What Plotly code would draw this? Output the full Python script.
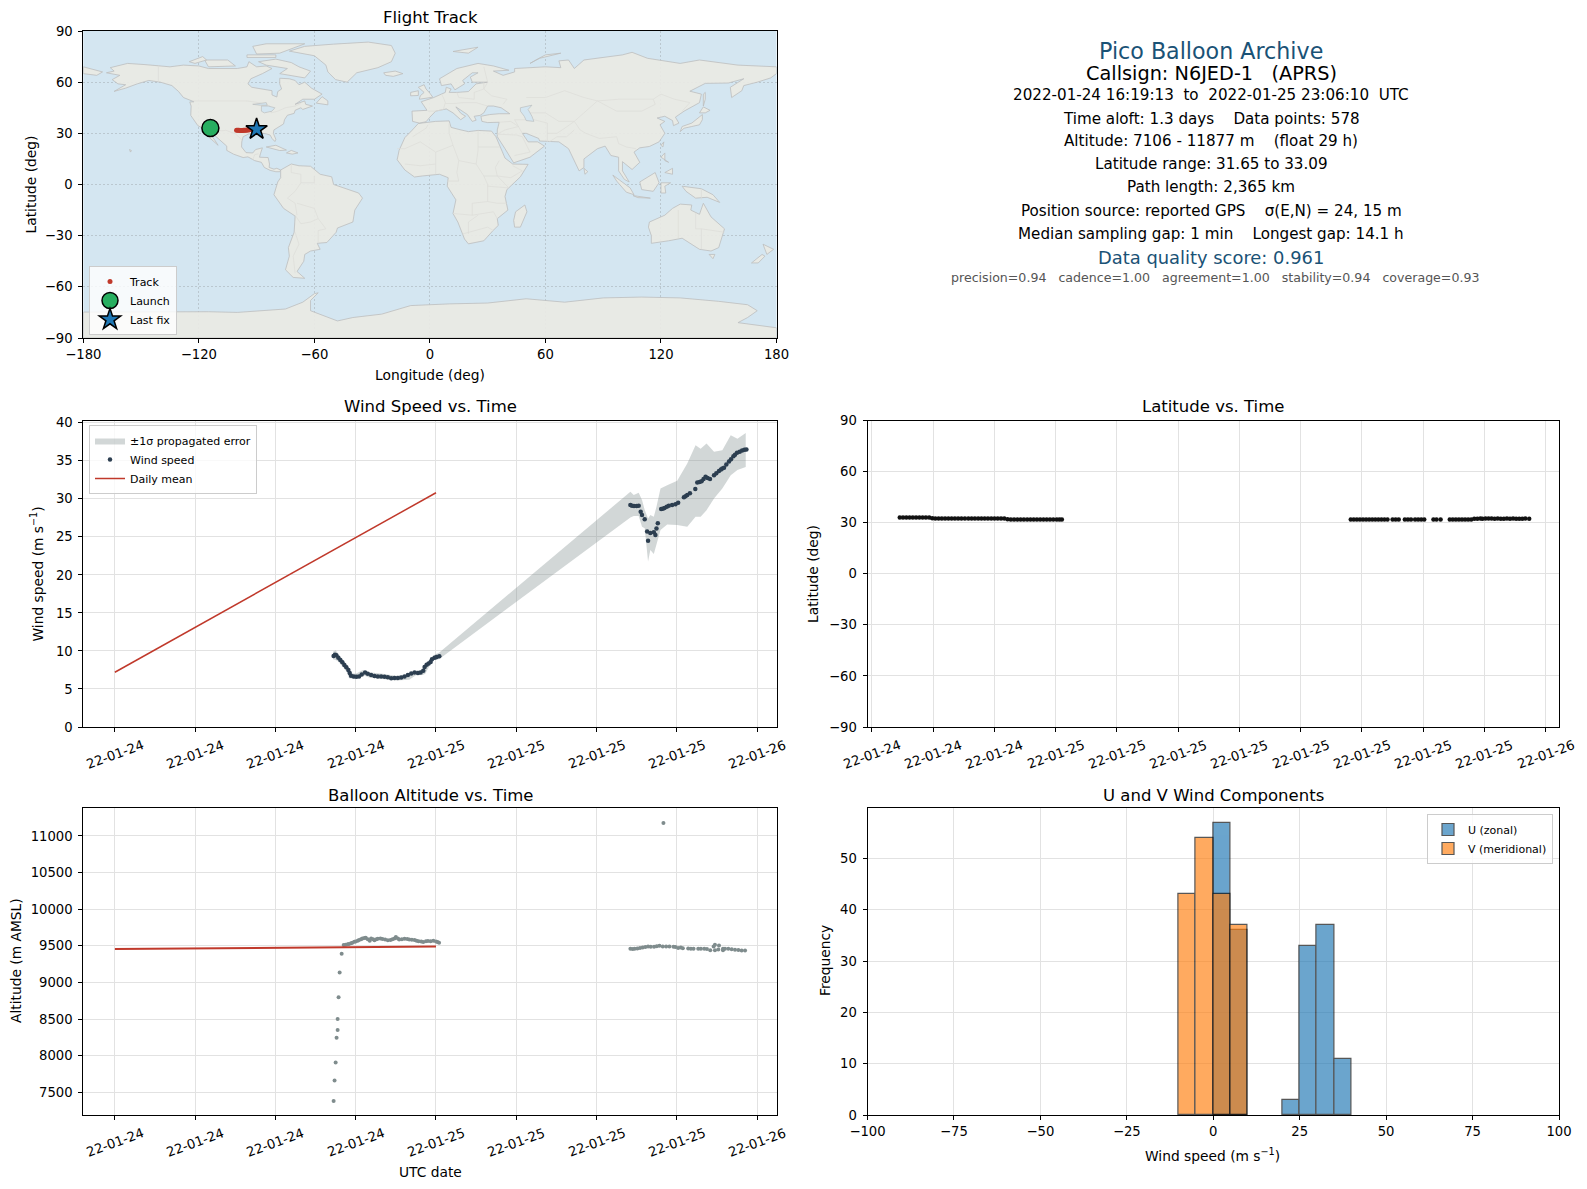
import pandas as pd
import plotly.graph_objects as go

WIDTH = 1587
HEIGHT = 1189
BASE_TIME = pd.Timestamp("2022-01-25 00:00:00")

# hours are relative to 2022-01-25 00:00 UTC
wind_hours = [-7.65, -7.55, -7.45, -7.3, -7.15, -7.0, -6.85, -6.7, -6.55, -6.45, -6.35, -6.15, -5.95, -5.75,
              -5.55, -5.3, -5.1, -4.85, -4.6, -4.35, -4.1, -3.85, -3.6, -3.35, -3.1, -2.85, -2.6, -2.35, -2.1,
              -1.85, -1.6, -1.35, -1.15, -0.95, -0.85, -0.7, -0.55, -0.4, -0.3, -0.1, 0.05, 0.25,
              14.53, 14.65, 14.8, 15.0, 15.15, 15.3, 15.4, 15.6, 15.78, 15.85, 16.02, 16.28, 16.4, 16.48, 16.58,
              16.83, 16.95, 17.08, 17.25, 17.4, 17.65, 17.9, 18.1, 18.53, 18.65, 18.78, 18.98, 19.38, 19.53,
              19.7, 19.85, 20.0, 20.15, 20.3, 20.48, 20.78, 20.95, 21.15, 21.3, 21.4, 21.53, 21.7, 21.9, 22.05,
              22.23, 22.35, 22.5, 22.7, 22.88, 23.05, 23.2]
wind_speed = [9.35, 9.5, 9.45, 9.1, 8.8, 8.5, 8.15, 7.85, 7.5, 7.1, 6.75, 6.65, 6.6, 6.65,
              6.9, 7.15, 7.0, 6.85, 6.7, 6.65, 6.65, 6.6, 6.55, 6.4, 6.45, 6.45, 6.5, 6.65, 6.85,
              7.05, 7.15, 7.1, 7.15, 7.4, 7.9, 8.2, 8.35, 8.55, 8.9, 9.1, 9.2, 9.3,
              29.2, 29.1, 29.05, 29.05, 29.1, 28.3, 27.87, 27.3, 25.7, 24.5, 25.5, 25.6, 25.25, 26.1, 26.8,
              28.65, 28.7, 28.8, 28.95, 29.1, 29.2, 29.3, 29.5, 30.2, 30.35, 30.5, 30.75, 31.3, 32.15,
              32.2, 32.3, 32.6, 32.9, 32.75, 32.6, 33.1, 33.35, 33.65, 33.85, 34.0, 34.1, 34.5, 34.9, 35.2,
              35.6, 35.8, 36.05, 36.2, 36.35, 36.45, 36.5]
band_hours = [-7.7, -7.5, -7.3, -7.0, -6.6, -6.5, -6.0, -5.5, -5.0, -4.0, -3.0, -2.0, -1.5, -1.0, -0.8, -0.5,
              -0.2, 0.0, 0.25, 14.53, 14.78, 15.15, 15.4, 15.6, 15.85, 16.02, 16.28, 16.48, 16.78, 17.28, 18.03,
              18.78, 19.4, 19.78, 20.22, 20.78, 21.4, 22.03, 22.53, 23.15]
band_upper = [9.9, 10.1, 9.6, 8.9, 8.1, 7.1, 7.0, 7.45, 7.2, 7.0, 6.75, 6.9, 7.4, 7.5, 7.7, 8.8,
              9.4, 9.6, 9.8, 30.93, 30.5, 30.8, 29.84, 28.52, 27.43, 27.87, 27.65, 28.96, 31.37, 31.8, 32.37,
              34.65, 37.05, 36.6, 37.27, 36.2, 36.4, 38.36, 37.9, 38.67]
band_lower = [8.9, 8.8, 8.6, 8.0, 7.1, 6.4, 6.3, 6.85, 6.5, 6.3, 6.1, 6.2, 6.8, 6.85, 7.0, 8.0,
              8.8, 8.8, 8.95, 27.56, 27.74, 27.74, 26.34, 26.12, 21.75, 23.28, 22.75, 24.15, 25.9, 26.64, 26.56,
              26.34, 27.65, 27.65, 28.5, 30.05, 31.37, 33.1, 33.8, 34.2]
daily_hours = [-24, 0]
daily_wind = [7.2, 30.8]
daily_altitude = [9455, 9490]

altitude_hours = [-7.65, -7.58, -7.5, -7.43, -7.35, -7.35, -7.28, -7.2, -7.05,
                  -6.9, -6.75, -6.6, -6.5, -6.35, -6.25, -6.1, -6.0, -5.85, -5.75, -5.6, -5.5, -5.35, -5.25, -5.1,
                  -4.95, -4.85, -4.7, -4.6, -4.45, -4.35, -4.15, -4.0, -3.8, -3.6, -3.4, -3.25, -3.1, -3.0, -2.85,
                  -2.75, -2.55, -2.35, -2.15, -2.0, -1.8, -1.6, -1.45, -1.3, -1.1, -0.95, -0.75, -0.6, -0.4, -0.2,
                  0.0, 0.12, 0.23,
                  14.53, 14.7, 14.85, 15.05, 15.25, 15.45, 15.65, 15.85, 16.05, 16.3, 16.5, 16.7, 16.95, 17.0, 17.2,
                  17.45, 17.75, 17.9, 18.1, 18.3, 18.45, 18.85, 19.05, 19.25, 19.6, 19.8, 20.05, 20.25, 20.5, 20.75,
                  20.85, 20.85, 21.1, 21.15, 21.45, 21.45, 21.6, 21.85, 22.1, 22.35, 22.6, 22.85, 23.1]
altitude = [7380, 7662, 7905, 8243, 8351, 8500, 8797, 9135, 9392,
            9511, 9515, 9520, 9525, 9535, 9543, 9555, 9560, 9570, 9578, 9590, 9600, 9605, 9610, 9590,
            9570, 9600, 9590, 9575, 9590, 9597, 9598, 9593, 9585, 9575, 9580, 9588, 9600, 9620, 9600,
            9585, 9590, 9597, 9592, 9585, 9583, 9580, 9570, 9562, 9560, 9550, 9562, 9565, 9563, 9568,
            9560, 9550, 9542,
            9459, 9455, 9461, 9464, 9470, 9477, 9482, 9491, 9486, 9488, 9495, 9500, 9491, 11176, 9491,
            9489, 9486, 9485, 9470, 9478, 9465, 9462, 9459, 9461, 9461, 9461, 9459, 9455, 9440, 9490,
            9440, 9515, 9450, 9505, 9461, 9440, 9459, 9459, 9453, 9446, 9441, 9437, 9437]

lat_hours = [-7.64, -7.48, -7.32, -7.16, -7.0, -6.84, -6.68, -6.52, -6.36, -6.2, -6.05, -5.9, -5.74, -5.58, -5.42,
             -5.26, -5.1, -4.94, -4.78, -4.62, -4.45, -4.28, -4.12, -3.96, -3.8, -3.64, -3.48, -3.32, -3.16, -3.0,
             -2.84, -2.68, -2.52, -2.36, -2.2, -2.04, -1.88, -1.72, -1.56, -1.4, -1.24, -1.08, -0.92, -0.76, -0.6,
             -0.44, -0.28, -0.12, 0.05, 0.18, 0.3,
             14.45, 14.6, 14.75, 14.9, 15.05, 15.2, 15.35, 15.5, 15.65, 15.8, 15.95, 16.1, 16.25, 16.5, 16.65, 16.8,
             17.1, 17.25, 17.4, 17.6, 17.75, 17.9, 18.05, 18.5, 18.65, 18.85, 19.3, 19.45, 19.6, 19.75, 19.9, 20.05,
             20.2, 20.35, 20.5, 20.65, 20.8, 20.9, 21.05, 21.2, 21.35, 21.5, 21.65, 21.8, 21.95, 22.1, 22.25, 22.4,
             22.55, 22.7, 22.85, 23.0, 23.19]
latitude = [33.05, 33.08, 33.09, 33.07, 33.06, 33.05, 33.06, 33.04, 33.03, 33.0, 32.55, 32.5, 32.48, 32.46, 32.47,
            32.45, 32.46, 32.44, 32.45, 32.46, 32.45, 32.5, 32.52, 32.5, 32.49, 32.48, 32.5, 32.46, 32.47, 32.46,
            32.44, 32.42, 32.4, 31.95, 31.92, 31.9, 31.88, 31.85, 31.87, 31.86, 31.84, 31.85, 31.82, 31.85, 31.87,
            31.86, 31.84, 31.88, 31.85, 31.87, 31.86,
            31.85, 31.84, 31.85, 31.83, 31.82, 31.83, 31.84, 31.82, 31.8, 31.82, 31.84, 31.82, 31.85, 31.83, 31.86,
            31.84, 31.85, 31.86, 31.84, 31.87, 31.85, 31.84, 31.86, 31.85, 31.87, 31.85, 31.86, 31.84, 31.87, 31.85,
            31.86, 31.88, 31.86, 31.9, 32.25, 32.3, 32.4, 32.35, 32.42, 32.38, 32.4, 32.36, 32.38, 32.35, 32.36,
            32.38, 32.36, 32.38, 32.35, 32.37, 32.36, 32.38, 32.36]

u_centers = [2.5, 7.5, 22.5, 27.5, 32.5, 37.5]
u_counts = [57, 36, 3, 33, 37, 11]
v_centers = [-7.5, -2.5, 2.5, 7.5]
v_counts = [43, 54, 43, 37]

track_lon = [-100.4, -99.8, -99.2, -98.6, -98.0, -97.4, -96.8, -96.2, -95.6, -95.0, -94.4, -93.8, -93.2, -92.6,
             -92.0, -91.4, -90.8, -90.2]
track_lat = [31.8, 31.8, 31.75, 31.7, 31.7, 31.7, 31.75, 31.8, 31.85, 31.9, 32.0, 32.1, 32.2, 32.25, 32.3, 32.3,
             32.35, 32.4]
launch_lon = [-114.0]
launch_lat = [33.09]
last_lon = [-90.0]
last_lat = [32.4]

wind_tick_hours = [-24, -18, -12, -6, 0, 6, 12, 18, 24]
wind_tick_labels = ["22-01-24", "22-01-24", "22-01-24", "22-01-24", "22-01-25", "22-01-25", "22-01-25", "22-01-25",
                    "22-01-26"]
lat_tick_hours = [-9, -6, -3, 0, 3, 6, 9, 12, 15, 18, 21, 24]
lat_tick_labels = ["22-01-24", "22-01-24", "22-01-24", "22-01-25", "22-01-25", "22-01-25", "22-01-25", "22-01-25",
                   "22-01-25", "22-01-25", "22-01-25", "22-01-26"]

info_lines = [
    "Pico Balloon Archive",
    "Callsign: N6JED-1\u00a0\u00a0\u00a0(APRS)",
    "2022-01-24 16:19:13\u00a0\u00a0to\u00a0\u00a02022-01-25 23:06:10\u00a0\u00a0UTC",
    "Time aloft: 1.3 days\u00a0\u00a0\u00a0\u00a0Data points: 578",
    "Altitude: 7106 - 11877 m\u00a0\u00a0\u00a0\u00a0(float 29 h)",
    "Latitude range: 31.65 to 33.09",
    "Path length: 2,365 km",
    "Position source: reported GPS\u00a0\u00a0\u00a0\u00a0σ(E,N) = 24, 15 m",
    "Median sampling gap: 1 min\u00a0\u00a0\u00a0\u00a0Longest gap: 14.1 h",
    "Data quality score: 0.961",
    "precision=0.94\u00a0\u00a0\u00a0cadence=1.00\u00a0\u00a0\u00a0agreement=1.00\u00a0\u00a0\u00a0stability=0.94\u00a0\u00a0\u00a0coverage=0.93",
]

# rough coastlines, (lon, lat)
land_polygons = [
    [(-168, 65.5), (-164, 66.5), (-166, 68.5), (-157, 71), (-148, 70.3), (-141, 69.6), (-135, 69), (-128, 70),
     (-120, 69.5), (-115, 68), (-108, 68), (-100, 68), (-95, 69), (-94, 72), (-90, 69), (-85, 69.5), (-82, 68),
     (-87, 65), (-93, 62), (-94.5, 59), (-92.5, 57), (-85, 55.3), (-82, 55), (-82, 52.5), (-79.5, 51.3), (-79, 54.5),
     (-77, 56), (-78, 59), (-78, 62.3), (-73, 62), (-70, 61), (-68, 58.5), (-65, 60), (-61.5, 56.5), (-56, 53),
     (-60, 50), (-66, 50), (-70, 47), (-65, 49), (-64.5, 47), (-61, 46), (-66, 44), (-67, 45), (-70, 43.5),
     (-70.5, 41.7), (-74, 40.6), (-75.5, 38), (-76, 35.5), (-78, 34), (-81, 32), (-81.3, 30), (-80, 26.5),
     (-80.5, 25.2), (-82, 27), (-83, 29), (-85, 29.7), (-89, 30.3), (-90, 29.2), (-94, 29.7), (-97, 28), (-97.7, 25),
     (-97.8, 22), (-95.5, 18.7), (-92, 18.5), (-90.5, 20.5), (-87, 21.5), (-88, 18), (-88.5, 16), (-84, 15.8),
     (-83.3, 12), (-83.5, 10), (-81, 9), (-79.5, 9.5), (-77.5, 8.5), (-78, 7.5), (-80, 7.5), (-83, 8.3), (-86, 10),
     (-87.5, 13), (-91, 14), (-94.5, 16.2), (-97, 15.8), (-102, 17.8), (-105.5, 20), (-105.5, 22.5), (-109, 26),
     (-112, 29), (-113, 31.2), (-114.7, 31.7), (-114.5, 30), (-112, 26.5), (-110, 23), (-112, 25), (-115, 28),
     (-116, 31), (-117.2, 32.6), (-120.5, 34.5), (-122.5, 37.5), (-124.2, 40.5), (-124, 46), (-124.7, 48.4),
     (-122.5, 48.5), (-128, 51), (-130.5, 54.5), (-134, 58), (-140, 60), (-146, 61), (-152, 59), (-158, 56.5),
     (-164, 54.6), (-158, 58.5), (-162, 59), (-165, 61.5), (-161, 64), (-168, 65.5)],
    [(-73, 78.2), (-65, 81), (-50, 82.3), (-32, 83.5), (-20, 81.5), (-18, 77), (-20, 72), (-27, 68.5), (-38, 65.5),
     (-43, 60), (-49, 61.5), (-53, 66), (-54, 70), (-60, 75.5), (-73, 78.2)],
    [(-80, 73.5), (-72, 71.5), (-68, 69), (-62, 66.5), (-65, 62.5), (-72, 64), (-78, 65), (-74, 68), (-85, 70),
     (-89, 72), (-80, 73.5)],
    [(-117, 73), (-105, 73), (-101, 69.5), (-115, 69), (-117, 73)],
    [(-90, 76.5), (-78, 77), (-65, 82.5), (-85, 82.5), (-92, 81), (-90, 76.5)],
    [(-125, 72), (-118, 75), (-116, 73), (-122, 71), (-125, 72)],
    [(-95, 76), (-80, 76), (-80, 74.5), (-95, 74.5), (-95, 76)],
    [(-59, 47.7), (-53, 46.7), (-53, 49), (-56, 51.5), (-59, 47.7)],
    [(-85, 22), (-80, 23), (-74.5, 20.2), (-78, 19.9), (-85, 22)],
    [(-74.5, 18.5), (-72, 20), (-68.5, 18.5), (-71.5, 17.8), (-74.5, 18.5)],
    [(-156, 20.5), (-155, 19.9), (-155.5, 19), (-156, 20.5)],
    [(-77.5, 8.5), (-72, 12), (-68, 11), (-62, 10.7), (-57, 6), (-51, 4.5), (-50, 0), (-44, -2.5), (-37, -5), (-35, -8),
     (-39, -15), (-40, -22), (-48, -25.5), (-48.7, -28), (-53.5, -34), (-58.5, -34.5), (-57, -38), (-62, -39),
     (-65, -41), (-65.5, -45), (-69, -51), (-65, -55), (-71, -54.5), (-75, -50), (-73, -42), (-73.5, -37),
     (-70.5, -28), (-70, -18.5), (-76, -14), (-81, -6), (-80, -2), (-79, 1.5), (-77.5, 4), (-77.5, 8.5)],
    [(-6, 35.8), (3, 37), (10, 37.3), (11, 33.5), (15, 32.3), (20, 31), (25, 31.7), (32, 31.3), (34.3, 28), (37, 21),
     (39, 15.5), (43, 12), (51, 11.8), (47, 4.5), (40, -3), (39, -7), (40.5, -15), (35, -20), (35.5, -24), (32.8, -27),
     (28, -33), (20, -34.8), (18, -32), (14.5, -22), (12, -17), (13.5, -9), (9, -1), (9.5, 4), (5, 6), (-4, 5),
     (-8, 4.4), (-13, 8.5), (-17, 14.5), (-16, 20), (-13, 27.5), (-9.5, 31.5), (-6, 35.8)],
    [(49.3, -12), (50.4, -16), (47, -25), (44, -25), (43.5, -21), (44.5, -16), (49.3, -12)],
    [(-9, 37), (-9.3, 43), (-1.5, 43.5), (-4.5, 48.5), (2, 51), (8, 54), (8.5, 57), (11, 56), (10, 54), (14, 54),
     (20, 54.5), (24, 59), (30, 60), (22, 60), (21, 63), (25, 65.5), (22, 65.5), (17, 61), (18, 59), (13, 55.5),
     (11, 59), (6, 58), (5, 62), (14, 68), (25, 71), (33, 69.5), (41, 67), (33, 66.5), (38, 64), (44, 66), (44, 68),
     (60, 69), (68, 68.5), (67, 72.5), (72, 73), (75, 68), (80, 73), (100, 76), (105, 77.5), (113, 74), (130, 71),
     (140, 73), (160, 70), (180, 69), (180, 65), (177, 62.5), (170, 60), (163, 58), (162, 55), (156.7, 51), (156, 57),
     (163, 62), (155, 59.5), (143, 59.3), (135, 54.7), (141, 53), (140, 48), (132, 43), (127.5, 39.5), (129.3, 36),
     (126.5, 34.5), (126, 37.5), (122, 40), (118, 39), (122, 37), (119.5, 35), (122, 30), (119, 25), (114, 22.3),
     (109, 21.5), (106, 19), (109, 13), (105, 8.8), (100, 13.4), (100, 8), (103.5, 1.5), (101, 3), (98, 8), (98, 16),
     (94, 17), (91, 22.5), (87, 21), (80, 15), (80, 10), (77.5, 8), (73, 18), (72, 21), (67, 25), (57, 25.5),
     (56.5, 27), (50, 30), (48, 30), (51, 25), (56, 25), (59.5, 22.5), (52, 16), (43.5, 12.7), (39, 21), (35, 28),
     (35, 32), (36, 36.5), (30, 36.3), (27, 37), (26.5, 40), (31, 41), (36, 41.5), (41.5, 41.5), (37, 45), (33, 46),
     (30, 46), (28, 42), (26, 40.5), (23, 40), (24, 37.7), (22, 37), (19.5, 41), (13.5, 45.5), (16, 41.8), (18.5, 40),
     (16, 38), (12, 42), (8.5, 44.3), (3, 43), (0, 39.5), (-2, 36.8), (-5.5, 36), (-9, 37)],
    [(-180, 69), (-170, 66), (-173, 64), (-180, 65), (-180, 69)],
    [(-5.5, 50), (1.5, 51.2), (0, 53.5), (-2, 56), (-3, 58.5), (-6, 57), (-3, 54), (-5, 52), (-5.5, 50)],
    [(-10, 52), (-6, 52.2), (-6, 55), (-10, 54), (-10, 52)],
    [(-24, 65.5), (-18, 66.5), (-14, 65), (-19, 63.4), (-23, 64), (-24, 65.5)],
    [(12, 78), (25, 80.5), (20, 77), (12, 78)],
    [(52, 71), (57, 74), (68, 77), (60, 76), (55, 73), (52, 71)],
    [(130, 31), (131, 34), (136, 36), (140, 40), (141.5, 41), (141.5, 38), (140, 35), (136, 34), (132, 33), (130, 31)],
    [(140, 42), (142, 45.5), (145.5, 43.5), (143, 42), (140, 42)],
    [(142, 46), (143, 50), (143, 54), (142, 53), (142, 46)],
    [(120, 23), (121.5, 25), (121, 22), (120, 23)],
    [(80, 9.5), (82, 7.5), (80.5, 6), (80, 9.5)],
    [(120, 16), (122, 18.5), (122, 14), (124, 13), (120, 16)],
    [(122, 7), (126, 9.5), (126, 6), (122, 7)],
    [(95, 5.5), (104, -2), (106, -6), (102, -4.5), (97, 2), (95, 5.5)],
    [(105.5, -6.5), (114.5, -8), (108, -7.7), (105.5, -6.5)],
    [(109, 1.5), (117, 7), (119, 1), (116, -4), (110, -3), (109, 1.5)],
    [(120, 1), (125, 1), (122, -1), (122.5, -5), (120, -5), (120, 1)],
    [(131, -1), (141, -2.5), (147, -6), (150.5, -10.5), (144, -7.5), (138, -8), (133, -4), (131, -1)],
    [(114, -22), (122, -18), (126, -14), (130, -11.5), (136, -12), (135.5, -15), (140, -17.5), (142, -11), (146, -19),
     (153, -26), (150, -37), (146, -39), (140, -38), (136, -35), (131, -31.5), (124, -33), (115, -34.5), (115, -30),
     (113.5, -25), (114, -22)],
    [(145, -41), (148, -41), (147, -43.5), (145, -41)],
    [(173, -35), (178.5, -38), (175, -41), (174, -38.5), (173, -35)],
    [(172.5, -41), (174, -42), (170.5, -46), (167, -46), (172.5, -41)],
    [(-180, -90), (-180, -74.8), (-115, -74.6), (-100, -75), (-75, -73), (-66, -69), (-60, -64), (-58, -63.5),
     (-62, -68), (-62, -74), (-48, -80), (-40, -78), (-25, -76), (-10, -71), (10, -70), (30, -69.5), (50, -67),
     (70, -69), (90, -66.5), (110, -66), (130, -66.5), (150, -68.5), (165, -70.5), (170, -74), (165, -78), (160, -81),
     (180, -84), (180, -90), (-180, -90)],
]
water_polygons = [
    [(47, 45), (53, 46.5), (51, 44), (53, 40), (54, 37), (50, 37.5), (49, 40), (47, 43), (47, 45)],
    [(-92, 47), (-85, 48), (-84.5, 46.5), (-88, 46.5), (-92, 47)],
    [(-87.5, 46), (-84, 46), (-80.5, 45), (-82, 43), (-86, 42), (-87.5, 43), (-87.5, 46)],
]
border_lines = [
    [(-123, 49), (-95, 49), (-89, 48), (-83, 46), (-82.5, 42), (-79, 43), (-75, 45), (-70, 46), (-67, 47.5)],
    [(-141, 69.6), (-141, 60)],
    [(-117, 32.5), (-108, 31.5), (-106, 31.8), (-101, 29.7), (-97.5, 26)],
    [(-92, 14.5), (-91, 17.5), (-89, 18)],
    [(-72, 12), (-72, 7), (-67, 6), (-67, 1), (-70, -4), (-74, -8), (-70, -11), (-69, -18)],
    [(-60, 5), (-60, 1), (-67, 1)],
    [(-58, -20), (-62, -22), (-67, -23), (-70, -18)],
    [(-58, -34), (-58, -27), (-54, -26), (-58, -20), (-60, -14), (-69, -11)],
    [(-70, -28), (-68, -35), (-71, -42), (-70, -52)],
    [(-1, 43), (3, 43), (7, 44), (8, 48), (7, 51), (6, 53)],
    [(14, 54), (15, 51), (23, 50), (23, 54), (28, 56), (28, 60)],
    [(30, 46), (24, 48), (17, 48), (13, 47.5), (8, 47.5)],
    [(28, 69), (30, 60), (28, 56), (32, 52), (40, 50), (38, 47)],
    [(48, 42), (60, 42), (67, 37), (75, 37), (80, 42), (87, 49), (98, 50), (106, 50), (116, 50), (120, 53), (127, 50),
     (135, 48), (131, 43)],
    [(50, 51), (60, 51), (70, 55), (80, 51), (87, 49)],
    [(87, 49), (97, 43), (110, 43), (117, 47), (116, 50)],
    [(75, 37), (78, 32), (81, 30), (88, 27), (97, 28), (98, 24), (102, 22), (107, 21)],
    [(61, 25), (61, 31), (61, 36), (54, 38), (48, 38), (44, 38), (46, 34), (48, 30)],
    [(61, 30), (66, 30), (70, 33), (75, 37)],
    [(62, 25), (66, 28), (71, 28), (75, 32)],
    [(36, 36.5), (42, 37), (46, 34), (39, 32), (35, 29.5), (45, 29), (48, 28), (52, 19), (44, 17)],
    [(-9, 28), (-2, 33), (-1, 35)],
    [(-17, 21), (-13, 21), (-5, 25), (3, 19), (12, 23), (10, 30), (10, 36)],
    [(25, 31.7), (25, 20), (24, 12), (28, 5), (30, 0), (30, -10), (22, -11), (22, -18), (12, -17)],
    [(25, 22), (36.5, 22)],
    [(3, 19), (3, 12), (3, 6)],
    [(12, 23), (15, 14), (14, 7), (15, 2), (9, 2)],
    [(15, 14), (24, 12)],
    [(30, -1), (41, -2), (35, 5), (42, 4), (48, 8), (43, 11)],
    [(35, 5), (28, 5)],
    [(36, 14), (34, 10), (35, 5)],
    [(-13, 12), (-5, 11), (3, 12)],
    [(30, -10), (35, -11), (40, -11)],
    [(22, -18), (33, -16), (35, -20)],
    [(20, -29), (20, -22), (25, -18)],
    [(17, -29), (30, -25), (33, -27)],
    [(129, -15), (129, -31.5)],
    [(138, -16.5), (138, -26), (141, -26), (141, -38)],
    [(141, -26), (153, -28)],
    [(141, -2.5), (141, -9)],
]


def to_time(hours):
    return [BASE_TIME + pd.Timedelta(hours=h) for h in hours]


def px_x(x):
    return x / WIDTH


def px_y(y):
    return 1 - y / HEIGHT


def main():
    AXIS_BOXES = {
        "map": (83.3, 776.5, 31, 338),
        "wind": (83.3, 776.5, 420.5, 727),
        "lat": (867.5, 1559, 420.5, 727),
        "alt": (83.3, 776.5, 808, 1115),
        "hist": (867.5, 1559, 808, 1115),
    }
    NAMES = {"map": "", "wind": "2", "lat": "3", "alt": "4", "hist": "5"}
    GRID = "rgb(226,226,226)"

    fig = go.Figure()

    # ---- map
    map_style = dict(xaxis="x", yaxis="y", showlegend=False, hoverinfo="skip", mode="lines")
    for poly in land_polygons:
        fig.add_trace(go.Scatter(x=[p[0] for p in poly], y=[p[1] for p in poly], fill="toself",
                                 fillcolor="rgba(233,233,228,0.93)", line=dict(color="rgb(188,190,190)", width=0.8),
                                 **map_style))
    for line in border_lines:
        fig.add_trace(go.Scatter(x=[p[0] for p in line], y=[p[1] for p in line],
                                 line=dict(color="rgb(221,221,216)", width=0.7), **map_style))
    for poly in water_polygons:
        fig.add_trace(go.Scatter(x=[p[0] for p in poly], y=[p[1] for p in poly], fill="toself",
                                 fillcolor="#d4e6f1", line=dict(color="rgb(188,190,190)", width=0.7), **map_style))
    fig.add_trace(go.Scatter(x=track_lon, y=track_lat, mode="markers", name="Track", legend="legend",
                             marker=dict(size=5, color="#c0392b")))
    fig.add_trace(go.Scatter(x=launch_lon, y=launch_lat, mode="markers", name="Launch", legend="legend",
                             marker=dict(size=17, color="#27ae60", line=dict(color="black", width=1.5))))
    fig.add_trace(go.Scatter(x=last_lon, y=last_lat, mode="markers", name="Last fix", legend="legend",
                             marker=dict(size=16, color="#1f77b4", symbol="star",
                                         line=dict(color="black", width=1.5))))

    # ---- wind
    band_x = to_time(band_hours) + to_time(band_hours[::-1])
    band_y = band_upper + band_lower[::-1]
    fig.add_trace(go.Scatter(x=band_x, y=band_y, xaxis="x2", yaxis="y2", fill="toself", mode="lines",
                             fillcolor="rgba(127,140,141,0.35)", line=dict(width=0), name="±1σ propagated error",
                             legend="legend2"))
    fig.add_trace(go.Scatter(x=to_time(wind_hours), y=wind_speed, xaxis="x2", yaxis="y2", mode="markers",
                             marker=dict(size=4.5, color="#2c3e50"), name="Wind speed", legend="legend2"))
    fig.add_trace(go.Scatter(x=to_time(daily_hours), y=daily_wind, xaxis="x2", yaxis="y2", mode="lines",
                             line=dict(color="#c0392b", width=1.5), name="Daily mean", legend="legend2"))

    # ---- latitude
    fig.add_trace(go.Scatter(x=to_time(lat_hours), y=latitude, xaxis="x3", yaxis="y3", mode="markers",
                             marker=dict(size=4.5, color="#111111"), showlegend=False))

    # ---- altitude
    fig.add_trace(go.Scatter(x=to_time(altitude_hours), y=altitude, xaxis="x4", yaxis="y4", mode="markers",
                             marker=dict(size=4, color="#7f8c8d"), showlegend=False))
    fig.add_trace(go.Scatter(x=to_time(daily_hours), y=daily_altitude, xaxis="x4", yaxis="y4", mode="lines",
                             line=dict(color="#c0392b", width=2), showlegend=False))

    # ---- histogram
    fig.add_trace(go.Bar(x=u_centers, y=u_counts, width=5, xaxis="x5", yaxis="y5", name="U (zonal)", legend="legend3",
                         marker=dict(color="#1f77b4", line=dict(color="black", width=1.2)), opacity=0.66))
    fig.add_trace(go.Bar(x=v_centers, y=v_counts, width=5, xaxis="x5", yaxis="y5", name="V (meridional)",
                         legend="legend3",
                         marker=dict(color="#ff7f0e", line=dict(color="black", width=1.2)), opacity=0.66))

    axis_base = dict(showline=True, mirror=True, linecolor="black", linewidth=1, ticks="outside", ticklen=4,
                     tickcolor="black", tickfont=dict(size=13.2, color="black"), zeroline=False, showgrid=True,
                     gridcolor=GRID, gridwidth=1, automargin=False)
    for key, (x0, x1, y0, y1) in AXIS_BOXES.items():
        n = NAMES[key]
        fig.layout[f"xaxis{n}"] = dict(axis_base, domain=[px_x(x0), px_x(x1)], anchor=f"y{n}")
        fig.layout[f"yaxis{n}"] = dict(axis_base, domain=[px_y(y1), px_y(y0)], anchor=f"x{n}", ticklabelstandoff=3)

    map_grid = dict(griddash="2px,2px", gridcolor="rgba(120,120,120,0.28)", gridwidth=0.6)
    fig.update_layout(
        xaxis=dict(range=[-180, 180], tickvals=[-180, -120, -60, 0, 60, 120, 180], **map_grid),
        yaxis=dict(range=[-90, 90], tickvals=[-90, -60, -30, 0, 30, 60, 90], **map_grid),
        yaxis2=dict(range=[0, 40.3], tickvals=[0, 5, 10, 15, 20, 25, 30, 35, 40]),
        yaxis3=dict(range=[-90, 90], tickvals=[-90, -60, -30, 0, 30, 60, 90]),
        yaxis4=dict(range=[7190, 11381], tickvals=[7500, 8000, 8500, 9000, 9500, 10000, 10500, 11000],
                    tickformat="d"),
        xaxis5=dict(range=[-100, 100], tickvals=[-100, -75, -50, -25, 0, 25, 50, 75, 100]),
        yaxis5=dict(range=[0, 59.85], tickvals=[0, 10, 20, 30, 40, 50]),
    )

    # date axes: labels drawn centred on the tick, like rotation=20 in the original
    annotations = []
    time_axes = [("2", wind_tick_hours, wind_tick_labels, [-26.36, 25.45]),
                 ("3", lat_tick_hours, lat_tick_labels, [-9.22, 24.65]),
                 ("4", wind_tick_hours, wind_tick_labels, [-26.36, 25.45])]
    for n, hours, labels, hour_range in time_axes:
        fig.layout[f"xaxis{n}"].update(type="date", range=to_time(hour_range), tickvals=to_time(hours),
                                       ticktext=[""] * len(hours))
        for t, label in zip(to_time(hours), labels):
            annotations.append(dict(x=t, y=0, xref=f"x{n}", yref=f"y{n} domain", text=label, textangle=-20,
                                    showarrow=False, yshift=-27, xanchor="center", yanchor="middle",
                                    font=dict(size=13.2, color="black")))

    def paper_text(text, x, y, size, color="black", angle=0):
        annotations.append(dict(x=px_x(x), y=px_y(y), xref="paper", yref="paper", text=text, showarrow=False,
                                xanchor="center", yanchor="middle", textangle=angle,
                                font=dict(size=size, color=color)))

    titles = [("Flight Track", 430, 17.5), ("Wind Speed vs. Time", 430, 406), ("Latitude vs. Time", 1213, 406),
              ("Balloon Altitude vs. Time", 430, 795), ("U and V Wind Components", 1213, 795)]
    for text, x, y in titles:
        paper_text(text, x, y, 16.5)

    axis_titles = [("Longitude (deg)", 430, 374.5, 0), ("UTC date", 430, 1172, 0),
                   ("Wind speed (m s<sup>−1</sup>)", 1212, 1155, 0),
                   ("Latitude (deg)", 30.5, 184, -90), ("Wind speed (m s<sup>−1</sup>)", 37.5, 574, -90),
                   ("Altitude (m AMSL)", 16, 961, -90), ("Latitude (deg)", 813, 574, -90),
                   ("Frequency", 825, 961, -90)]
    for text, x, y, angle in axis_titles:
        paper_text(text, x, y, 13.8, angle=angle)

    info_y = [50.5, 73, 95.5, 118.5, 141, 164, 187, 210.5, 233.5, 257.5, 278]
    info_size = [22.2, 19.3, 15.15, 15.15, 15.15, 15.15, 15.15, 15.15, 15.15, 17.9, 12.6]
    info_x = [1211, 1211, 1211, 1211, 1211, 1211, 1211, 1211, 1211, 1211, 1215]
    info_color = ["#1a5276", "black", "black", "black", "black", "black", "black", "black", "black", "#1a5276", "#555555"]
    for text, x, y, size, color in zip(info_lines, info_x, info_y, info_size, info_color):
        paper_text(text, x, y, size, color)

    legend_base = dict(bgcolor="rgba(255,255,255,0.8)", bordercolor="#cccccc", borderwidth=1,
                       font=dict(size=11, color="black"), xanchor="left", yanchor="top", tracegroupgap=0,
                       itemsizing="trace")
    fig.update_layout(
        width=WIDTH, height=HEIGHT, autosize=False, margin=dict(l=0, r=0, t=0, b=0),
        paper_bgcolor="white", plot_bgcolor="white", showlegend=True, barmode="overlay", bargap=0,
        font=dict(family="DejaVu Sans", color="black"),
        annotations=annotations,
        legend=dict(legend_base, x=px_x(89), y=px_y(335), yanchor="bottom"),
        legend2=dict(legend_base, x=px_x(89), y=px_y(425)),
        legend3=dict(legend_base, x=px_x(1553), y=px_y(814), xanchor="right"),
    )
    # ocean colour behind the map only
    fig.add_shape(type="rect", xref="x domain", yref="y domain", x0=0, x1=1, y0=0, y1=1, fillcolor="#d4e6f1",
                  line=dict(width=0), layer="below")

    fig.write_html("out.html", config={"displayModeBar": False}, post_script="document.body.style.margin='0';")


if __name__ == '__main__':
    main()
